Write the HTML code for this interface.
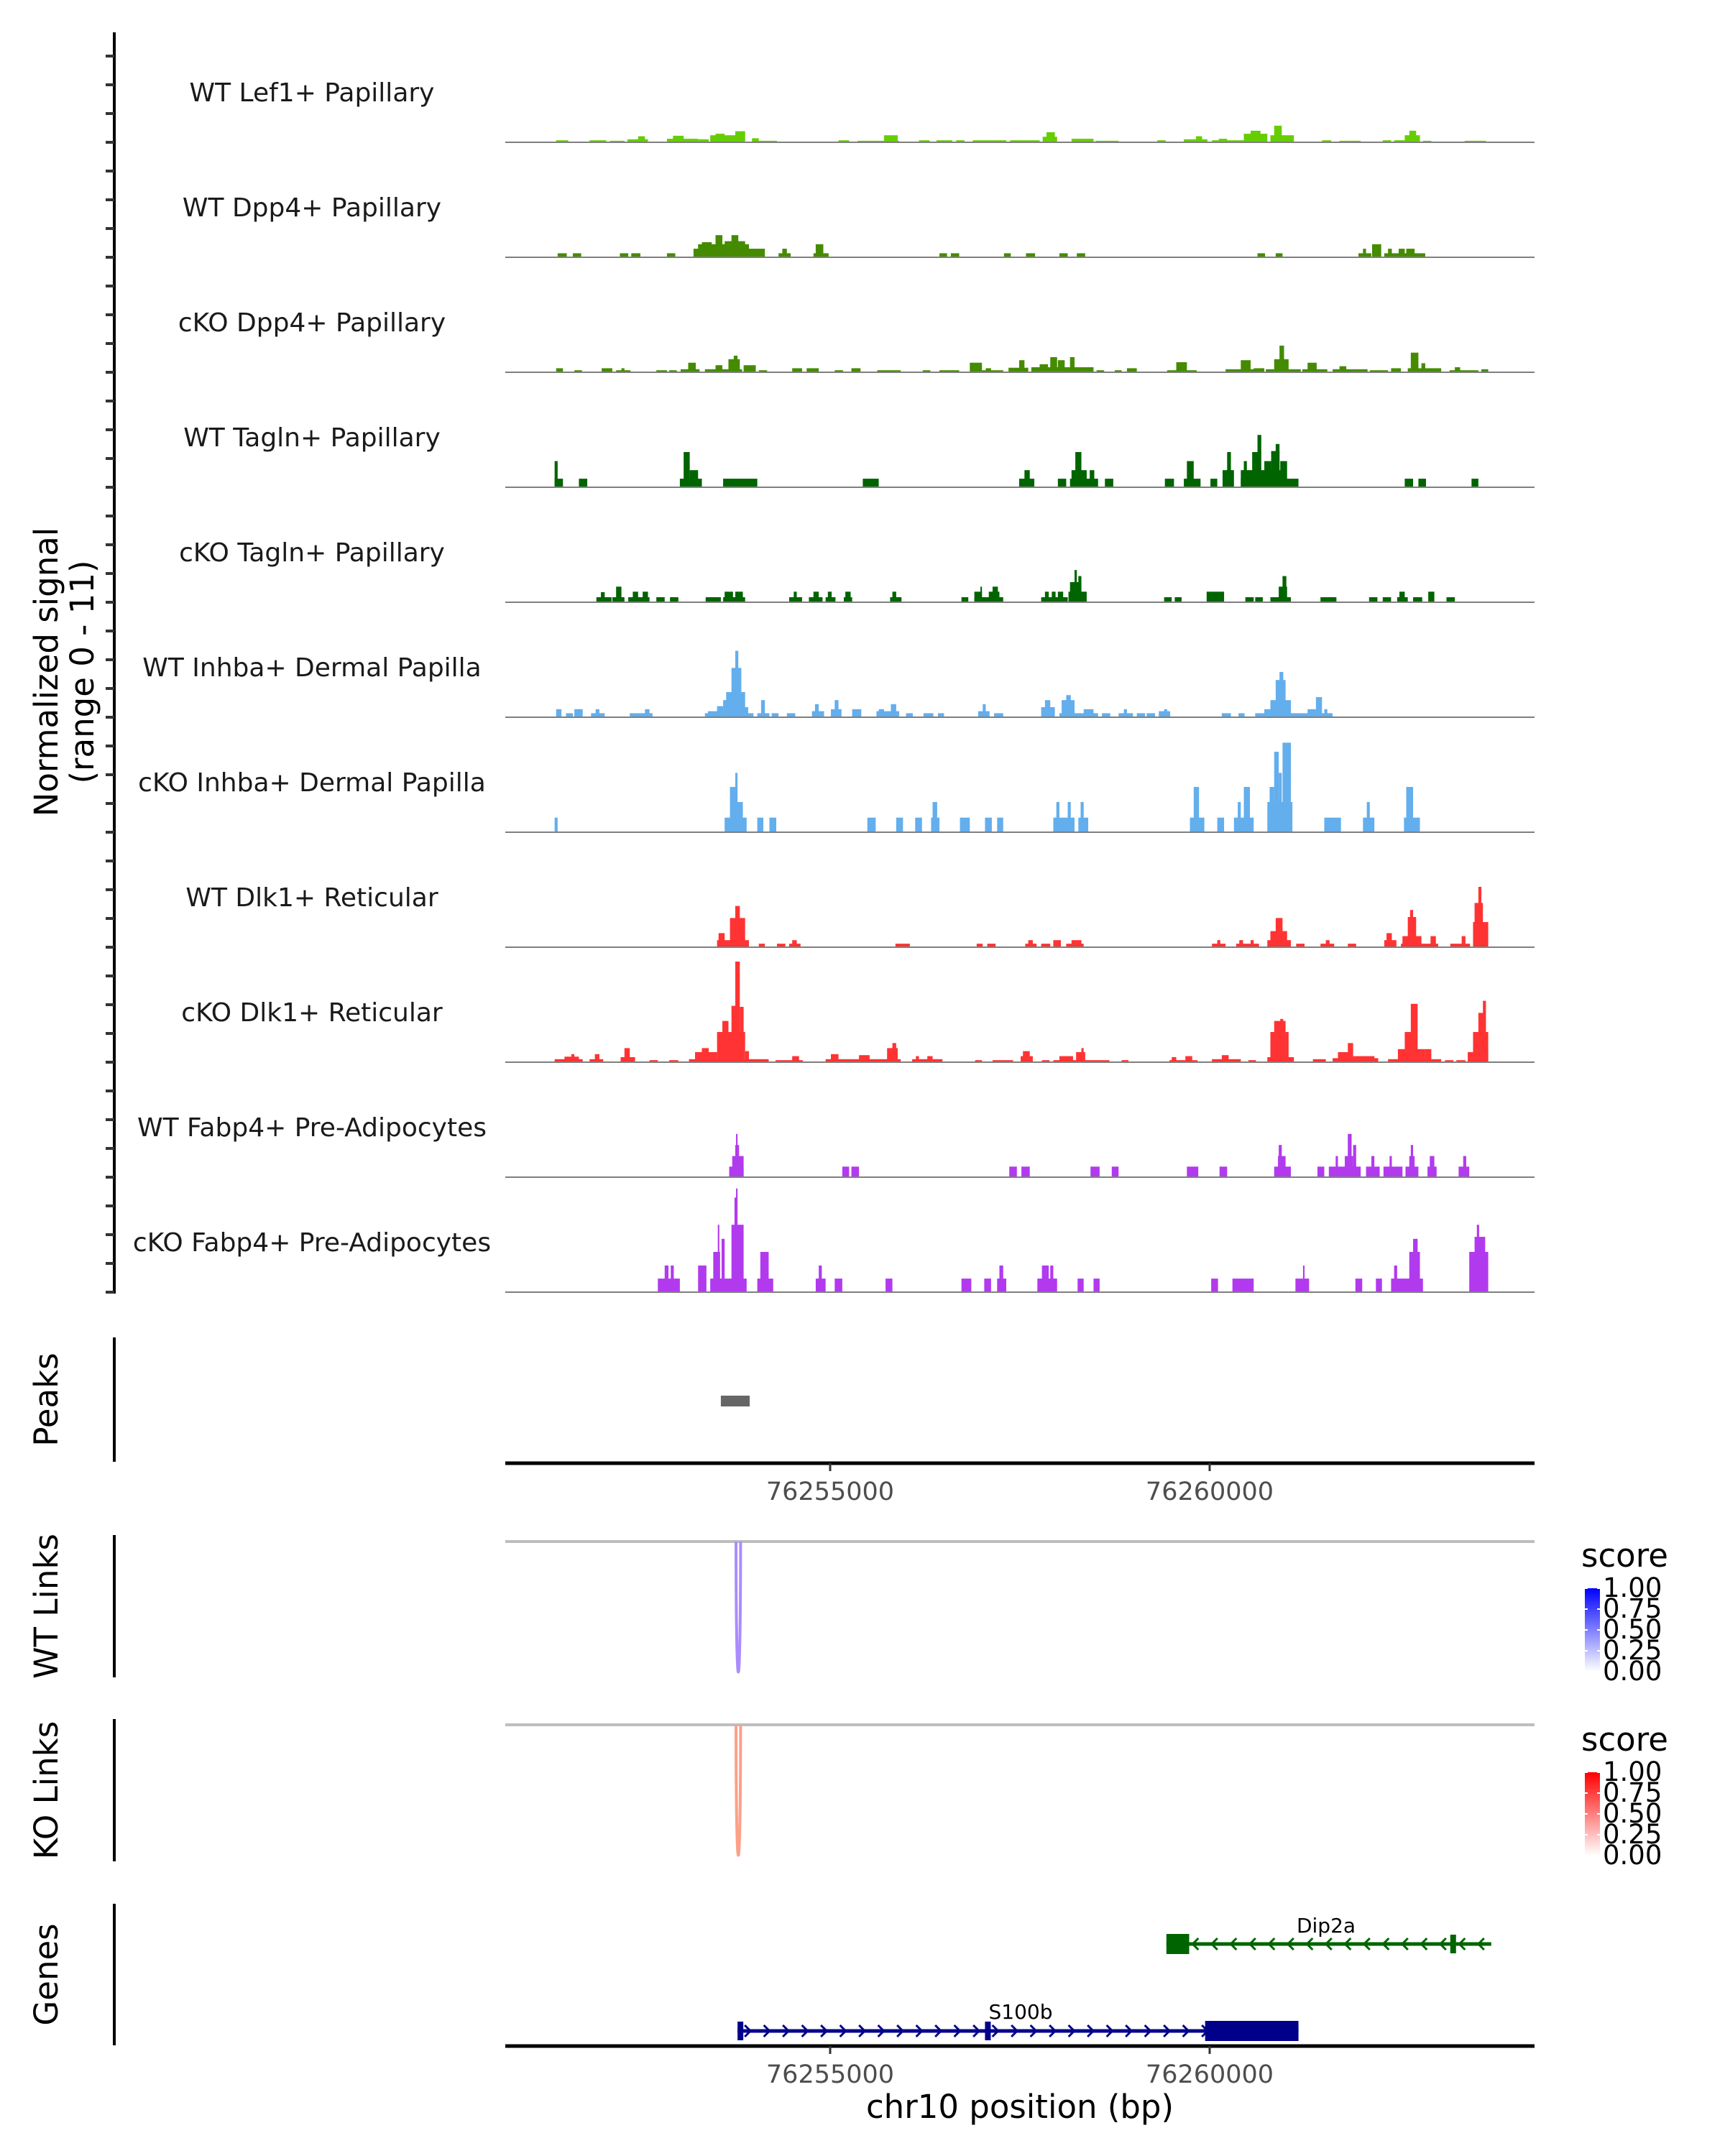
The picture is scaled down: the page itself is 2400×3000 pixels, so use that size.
<!DOCTYPE html>
<html><head><meta charset="utf-8"><style>
html,body{margin:0;padding:0;background:#fff;}
svg{display:block;font-family:"DejaVu Sans","Liberation Sans",sans-serif;}
</style></head><body>
<svg id="fig" width="2400" height="3000" viewBox="0 0 2400 3000" xmlns="http://www.w3.org/2000/svg">
<defs>
<linearGradient id="gBlue" x1="0" y1="1" x2="0" y2="0"><stop offset="0" stop-color="#ffffff"/><stop offset="1" stop-color="#0000ff"/></linearGradient>
<linearGradient id="gRed" x1="0" y1="1" x2="0" y2="0"><stop offset="0" stop-color="#ffffff"/><stop offset="1" stop-color="#ff0000"/></linearGradient>
</defs>
<g id="root"></g>
</svg>
<script>
// ---- data (positions: kb offset from regionStartKb; heights: normalized signal) ----
const regionStartKb = 76250;
const domainKb = [0.72, 14.28];
const axisTicksKb = [5, 10];
const axisTickLabels = ["76255000", "76260000"];
const trackNames = ["WT Lef1+ Papillary","WT Dpp4+ Papillary","cKO Dpp4+ Papillary","WT Tagln+ Papillary","cKO Tagln+ Papillary","WT Inhba+ Dermal Papilla","cKO Inhba+ Dermal Papilla","WT Dlk1+ Reticular","cKO Dlk1+ Reticular","WT Fabp4+ Pre-Adipocytes","cKO Fabp4+ Pre-Adipocytes"];
const trackColors = ["#66cd00","#458b00","#458b00","#006400","#006400","#63aeed","#63aeed","#ff3333","#ff3333","#b23aee","#b23aee"];
const signalRange = [0, 11];
const sigLef1 = [1.39,1.55,0.2, 1.83,2.05,0.2, 2.10,2.29,0.15, 2.33,2.60,0.3, 2.47,2.56,0.6, 2.85,3.26,0.35, 2.93,3.07,0.65, 3.26,3.40,0.3, 3.42,3.75,0.7, 3.49,3.61,0.85, 3.75,3.88,1.1, 3.97,4.06,0.4, 4.06,4.30,0.15, 5.11,5.25,0.2, 5.36,5.91,0.15, 5.71,5.89,0.7, 6.17,6.31,0.2, 6.40,6.61,0.2, 6.66,6.77,0.2, 6.88,7.32,0.2, 7.37,7.76,0.2, 7.80,7.99,0.55, 7.85,7.96,1.0, 8.18,8.47,0.35, 8.50,8.80,0.15, 9.31,9.42,0.2, 9.66,9.97,0.3, 9.82,9.90,0.6, 10.03,10.49,0.2, 10.12,10.23,0.35, 10.45,10.76,0.85, 10.54,10.67,1.15, 10.80,11.11,0.7, 10.85,10.95,1.65, 11.48,11.60,0.2, 11.71,11.99,0.15, 12.28,12.39,0.2, 12.43,12.57,0.2, 12.57,12.77,0.7, 12.63,12.72,1.15, 12.81,12.92,0.15, 13.36,13.64,0.15];
const sigWtDpp4 = [1.41,1.53,0.4, 1.61,1.72,0.4, 2.23,2.34,0.4, 2.38,2.50,0.4, 2.85,2.96,0.4, 3.20,4.14,0.85, 3.26,3.93,1.3, 3.31,3.44,1.5, 3.49,3.58,2.2, 3.61,3.88,1.6, 3.70,3.79,2.2, 4.32,4.48,0.4, 4.37,4.43,0.85, 4.78,4.98,0.4, 4.81,4.91,1.3, 6.44,6.54,0.4, 6.59,6.70,0.4, 7.29,7.38,0.4, 7.58,7.70,0.4, 8.02,8.13,0.4, 8.25,8.36,0.4, 10.63,10.73,0.4, 10.87,10.96,0.4, 11.96,12.13,0.4, 12.02,12.06,0.85, 12.14,12.26,1.3, 12.30,12.84,0.4, 12.35,12.40,0.85, 12.49,12.57,0.85, 12.59,12.70,0.85];
const sigCkoDpp4 = [1.39,1.48,0.4, 1.63,1.73,0.2, 1.99,2.13,0.4, 2.18,2.37,0.2, 2.25,2.29,0.4, 2.71,2.85,0.2, 2.88,2.98,0.2, 3.03,3.28,0.3, 3.13,3.23,0.95, 3.35,3.84,0.3, 3.49,3.58,0.7, 3.66,3.81,1.3, 3.73,3.78,1.65, 3.86,4.02,0.7, 4.06,4.17,0.2, 4.50,4.63,0.4, 4.69,4.85,0.4, 5.06,5.17,0.2, 5.28,5.40,0.4, 5.62,5.93,0.2, 6.22,6.32,0.2, 6.44,6.70,0.2, 6.84,7.00,0.95, 7.00,7.28,0.2, 7.05,7.12,0.4, 7.35,7.61,0.45, 7.49,7.56,1.2, 7.65,8.47,0.5, 7.76,7.87,0.8, 7.90,7.99,1.5, 8.00,8.09,1.2, 8.16,8.22,1.5, 8.51,8.61,0.2, 8.75,8.84,0.2, 8.91,9.04,0.4, 9.44,9.83,0.2, 9.56,9.70,1.0, 10.21,10.72,0.3, 10.41,10.54,1.2, 10.58,10.72,0.4, 10.74,11.20,0.3, 10.85,11.04,1.3, 10.92,10.98,2.65, 11.22,11.55,0.3, 11.29,11.41,0.95, 11.62,12.08,0.3, 11.71,11.80,0.6, 12.11,12.35,0.2, 12.39,12.52,0.4, 12.61,13.05,0.4, 12.65,12.75,1.95, 12.79,12.84,0.9, 13.16,13.54,0.2, 13.23,13.30,0.5, 13.58,13.67,0.3];
const sigWtTagln = [1.37,1.48,0.85, 1.37,1.41,2.6, 1.69,1.80,0.85, 3.02,3.31,0.85, 3.07,3.15,3.5, 3.15,3.26,1.7, 3.59,4.04,0.85, 5.43,5.64,0.85, 7.49,7.69,0.85, 7.56,7.63,1.7, 8.00,8.11,0.85, 8.16,8.53,0.85, 8.18,8.38,1.7, 8.23,8.31,3.5, 8.42,8.48,1.7, 8.62,8.73,0.85, 9.41,9.53,0.85, 9.66,9.88,0.85, 9.70,9.79,2.6, 10.01,10.10,0.85, 10.17,10.32,1.7, 10.23,10.28,3.5, 10.41,11.17,0.85, 10.41,10.97,1.7, 10.45,10.49,2.6, 10.56,10.65,3.5, 10.63,10.68,5.2, 10.72,10.81,2.6, 10.81,10.92,3.6, 10.87,10.92,4.3, 10.93,11.02,2.6, 12.57,12.68,0.85, 12.75,12.85,0.85, 13.45,13.54,0.85];
const sigCkoTagln = [1.92,2.12,0.5, 1.98,2.03,1.0, 2.13,2.29,0.5, 2.18,2.25,1.55, 2.34,2.62,0.5, 2.40,2.47,1.05, 2.53,2.60,1.05, 2.71,2.82,0.5, 2.89,3.00,0.5, 3.36,3.56,0.5, 3.59,3.88,0.5, 3.61,3.72,1.05, 3.75,3.85,1.05, 4.46,4.63,0.5, 4.52,4.56,1.05, 4.72,4.90,0.5, 4.78,4.85,1.05, 4.94,5.07,0.5, 4.97,5.02,1.05, 5.18,5.29,0.5, 5.20,5.27,1.05, 5.79,5.94,0.5, 5.82,5.87,1.05, 6.73,6.82,0.5, 6.90,7.28,0.5, 6.90,7.00,1.05, 6.98,7.00,1.55, 7.09,7.23,1.05, 7.14,7.21,1.55, 7.78,8.13,0.5, 7.83,7.88,1.05, 7.92,7.97,1.05, 8.00,8.07,1.05, 8.14,8.38,1.05, 8.16,8.31,2.0, 8.22,8.25,3.2, 8.27,8.31,2.6, 9.40,9.50,0.5, 9.54,9.63,0.5, 9.96,10.19,1.05, 10.47,10.58,0.5, 10.60,10.70,0.5, 10.80,11.07,0.5, 10.91,11.02,1.55, 10.96,11.01,2.6, 11.46,11.67,0.5, 12.10,12.21,0.5, 12.28,12.39,0.5, 12.47,12.61,0.5, 12.50,12.57,1.05, 12.68,12.80,0.5, 12.88,12.96,1.05, 13.12,13.23,0.5];
const sigWtInhba = [1.39,1.46,0.8, 1.52,1.61,0.4, 1.63,1.74,0.8, 1.85,2.03,0.4, 1.91,1.96,0.8, 2.36,2.66,0.4, 2.56,2.62,0.8, 3.35,3.99,0.4, 3.39,3.53,0.6, 3.51,3.59,1.1, 3.59,3.66,1.7, 3.63,3.88,2.5, 3.70,3.83,4.9, 3.75,3.79,6.6, 3.86,3.92,1.0, 4.04,4.20,0.4, 4.09,4.14,1.7, 4.23,4.32,0.4, 4.43,4.54,0.4, 4.76,4.92,0.6, 4.80,4.85,1.3, 5.01,5.15,0.8, 5.06,5.11,1.7, 5.29,5.41,0.8, 5.61,5.91,0.6, 5.64,5.71,0.8, 5.80,5.87,1.3, 6.00,6.09,0.4, 6.23,6.36,0.4, 6.42,6.50,0.4, 6.95,7.10,0.6, 7.01,7.05,1.3, 7.16,7.28,0.4, 7.78,7.96,1.0, 7.83,7.90,1.7, 8.02,8.53,0.4, 8.05,8.22,1.7, 8.11,8.17,2.2, 8.34,8.47,0.8, 8.58,8.69,0.4, 8.80,8.99,0.4, 8.87,8.91,0.8, 9.04,9.15,0.4, 9.17,9.28,0.4, 9.33,9.48,0.6, 9.40,9.44,0.8, 10.16,10.28,0.4, 10.38,10.46,0.4, 10.60,11.25,0.4, 10.72,10.83,0.8, 10.80,11.07,1.7, 10.87,11.00,3.7, 10.92,10.97,4.5, 11.25,11.62,0.4, 11.29,11.40,0.8, 11.40,11.48,2.0, 11.51,11.55,0.8];
const sigCkoInhba = [1.37,1.41,1.45, 3.61,3.90,1.45, 3.68,3.77,4.5, 3.75,3.78,5.9, 3.77,3.85,3.0, 4.04,4.12,1.45, 4.20,4.29,1.45, 5.49,5.60,1.45, 5.87,5.96,1.45, 6.12,6.21,1.45, 6.33,6.44,1.45, 6.35,6.41,3.0, 6.71,6.84,1.45, 7.04,7.13,1.45, 7.20,7.28,1.45, 7.94,8.22,1.45, 7.98,8.02,3.0, 8.13,8.17,3.0, 8.27,8.40,1.45, 8.30,8.34,3.0, 9.74,9.93,1.45, 9.79,9.86,4.5, 10.10,10.19,1.45, 10.32,10.58,1.45, 10.37,10.41,3.0, 10.45,10.53,4.5, 10.76,11.09,3.0, 10.79,10.85,4.5, 10.85,10.91,8.0, 10.91,10.95,5.9, 10.96,11.07,8.9, 11.51,11.73,1.45, 12.02,12.17,1.45, 12.07,12.11,3.0, 12.56,12.77,1.45, 12.59,12.68,4.5];
const sigWtDlk1 = [3.51,3.93,0.7, 3.53,3.61,1.4, 3.68,3.88,2.9, 3.75,3.81,4.1, 4.06,4.14,0.35, 4.30,4.41,0.35, 4.46,4.61,0.35, 4.50,4.56,0.7, 5.86,6.05,0.35, 6.93,7.01,0.35, 7.07,7.18,0.35, 7.57,7.72,0.35, 7.61,7.67,0.7, 7.78,7.90,0.35, 7.94,8.04,0.7, 8.11,8.34,0.35, 8.18,8.31,0.7, 10.03,10.21,0.35, 10.10,10.14,0.7, 10.35,10.65,0.35, 10.39,10.44,0.7, 10.54,10.58,0.7, 10.76,11.07,0.7, 10.80,11.02,1.6, 10.87,10.96,2.9, 11.14,11.25,0.35, 11.46,11.64,0.35, 11.53,11.58,0.7, 11.82,11.93,0.35, 12.30,12.46,0.7, 12.33,12.40,1.4, 12.52,13.01,0.35, 12.54,12.79,1.1, 12.61,12.72,3.0, 12.64,12.68,3.7, 12.91,12.98,1.1, 13.17,13.43,0.35, 13.32,13.37,1.1, 13.47,13.67,2.5, 13.49,13.60,4.4, 13.54,13.58,6.0];
const sigCkoDlk1 = [1.37,1.74,0.3, 1.50,1.69,0.55, 1.59,1.63,0.8, 1.83,2.01,0.3, 1.90,1.96,0.8, 2.24,2.43,0.5, 2.29,2.36,1.4, 2.62,2.73,0.2, 2.88,3.00,0.2, 3.14,4.19,0.3, 3.22,3.51,1.0, 3.31,3.40,1.4, 3.51,3.88,3.0, 3.58,3.66,4.1, 3.70,3.79,5.6, 3.75,3.81,10.0, 3.81,3.86,5.5, 3.88,3.93,1.1, 4.28,4.64,0.2, 4.50,4.59,0.6, 4.94,5.93,0.3, 5.01,5.11,0.8, 5.38,5.52,0.7, 5.75,5.89,1.4, 5.82,5.87,1.9, 6.08,6.48,0.3, 6.13,6.17,0.6, 6.28,6.35,0.6, 6.91,7.00,0.2, 7.14,7.41,0.2, 7.51,7.67,0.6, 7.54,7.63,1.1, 7.79,7.89,0.2, 7.94,8.68,0.2, 8.02,8.20,0.6, 8.24,8.36,1.0, 8.31,8.34,1.4, 8.84,8.93,0.2, 9.47,9.84,0.2, 9.50,9.56,0.5, 9.68,9.77,0.6, 10.03,10.41,0.3, 10.16,10.25,0.7, 10.51,10.61,0.2, 10.76,11.11,0.5, 10.80,11.04,3.0, 10.85,11.00,4.1, 10.93,10.97,4.3, 11.36,11.53,0.3, 11.62,12.22,0.4, 11.69,11.87,1.0, 11.82,11.89,1.9, 11.89,12.17,0.6, 12.35,13.05,0.3, 12.48,12.84,1.3, 12.57,12.72,3.0, 12.65,12.74,5.8, 12.84,12.92,1.3, 13.10,13.21,0.2, 13.25,13.37,0.2, 13.40,13.67,1.0, 13.47,13.67,3.0, 13.54,13.63,4.9, 13.60,13.64,6.1];
const sigWtFabp4 = [3.67,3.86,1.05, 3.71,3.86,2.1, 3.75,3.80,3.2, 3.76,3.78,4.3, 5.16,5.25,1.05, 5.28,5.38,1.05, 7.36,7.46,1.05, 7.52,7.63,1.05, 8.43,8.55,1.05, 8.71,8.80,1.05, 9.70,9.85,1.05, 10.13,10.23,1.05, 10.85,11.07,1.05, 10.90,11.00,2.1, 10.91,10.95,3.2, 11.42,11.51,1.05, 11.57,11.99,1.05, 11.66,11.69,2.1, 11.78,11.89,2.1, 11.82,11.87,4.3, 11.89,11.93,3.2, 12.06,12.24,1.05, 12.13,12.17,2.1, 12.29,12.54,1.05, 12.37,12.40,2.1, 12.58,12.75,1.05, 12.63,12.70,2.1, 12.65,12.68,3.2, 12.87,12.99,1.05, 12.90,12.96,2.1, 13.28,13.42,1.05, 13.34,13.38,2.1];
const sigCkoFabp4 = [2.73,3.02,1.35, 2.82,2.87,2.65, 2.90,2.94,2.65, 3.26,3.37,2.65, 3.42,3.90,1.35, 3.46,3.55,4.0, 3.52,3.54,6.7, 3.57,3.61,5.3, 3.70,3.86,6.7, 3.74,3.77,9.4, 3.76,3.78,10.3, 4.04,4.25,1.35, 4.08,4.19,4.0, 4.81,4.94,1.35, 4.85,4.89,2.65, 5.06,5.16,1.35, 5.73,5.82,1.35, 6.73,6.86,1.35, 7.03,7.12,1.35, 7.20,7.32,1.35, 7.23,7.28,2.65, 7.73,7.99,1.35, 7.79,7.88,2.65, 7.90,7.94,2.65, 8.26,8.34,1.35, 8.47,8.55,1.35, 10.02,10.11,1.35, 10.30,10.58,1.35, 11.13,11.31,1.35, 11.23,11.25,2.65, 11.92,12.01,1.35, 12.19,12.27,1.35, 12.39,12.81,1.35, 12.43,12.47,2.65, 12.63,12.77,4.0, 12.68,12.74,5.3, 13.42,13.67,4.0, 13.49,13.63,5.5, 13.52,13.55,6.7];
const trackSignals = [sigLef1,sigWtDpp4,sigCkoDpp4,sigWtTagln,sigCkoTagln,sigWtInhba,sigCkoInhba,sigWtDlk1,sigCkoDlk1,sigWtFabp4,sigCkoFabp4];
const peakRegions = [[3.56, 3.94]];
const wtLinks = [[3.76, 3.82, 0.45]];
const koLinks = [[3.76, 3.82, 0.45]];
const geneNames = ["Dip2a", "S100b"];
const geneSpans = [[9.43, 13.71], [3.78, 11.17]];
const geneStrand = [-1, 1];
const geneExons = [[[9.43, 9.73, 1], [13.17, 13.21, 0]], [[3.78, 3.83, 0], [7.04, 7.12, 0], [9.94, 11.17, 1]]];
const legendTicks = [0, 0.25, 0.5, 0.75, 1.0];

// ---- layout ----
const NS = "http://www.w3.org/2000/svg";
const root = document.getElementById("root");
const X0 = 703, X1 = 2135;
function xs(kb) { return X0 + (kb - domainKb[0]) / (domainKb[1] - domainKb[0]) * (X1 - X0); }
const unitPx = 14;
function mk(tag, attrs, parent) {
  const e = document.createElementNS(NS, tag);
  for (const k in attrs) e.setAttribute(k, attrs[k]);
  (parent || root).appendChild(e);
  return e;
}
function txt(s, attrs, parent) { const e = mk("text", attrs, parent); e.textContent = s; return e; }

let ax = mk("line", {x1:159, y1:45, x2:159, y2:1800, stroke:"#000", "stroke-width":4});


for (let y = 78; y <= 1800; y += 40) {
  const t = mk("line", {x1:147, y1:y, x2:159, y2:y, stroke:"#333", "stroke-width":4});
  
  
}
const yt = mk("text", {transform:"translate(80,935) rotate(-90)", "text-anchor":"middle", "font-size":45, fill:"#000"});


const t1 = mk("tspan", {x:0, y:0}, yt); t1.textContent = "Normalized signal";
const t2 = mk("tspan", {x:0, y:50}, yt); t2.textContent = "(range 0 - 11)";

for (let i = 0; i < trackNames.length; i++) {
  const base = 198 + 160 * i;
  const g = mk("g", {});
  
  
  const lab = txt(trackNames[i], {x:434, y:base - 57, "text-anchor":"middle", "font-size":36, fill:"#1a1a1a"}, g);
  
  
  const s = trackSignals[i];
  for (let j = 0; j + 2 < s.length; j += 3) {
    const x1 = xs(s[j]), x2 = xs(s[j + 1]);
    const h = Math.min(s[j + 2], signalRange[1]) * unitPx;
    const r = mk("rect", {x:x1, y:base - h, width:Math.max(1, x2 - x1), height:h, fill:trackColors[i]}, g);
    
    
  }
  const bl = mk("line", {x1:X0, y1:base, x2:X1, y2:base, stroke:"#7f7f7f", "stroke-width":2}, g);
  
  
}

function sidePanel(name, y1, y2, label) {
  const l = mk("line", {x1:159, y1:y1, x2:159, y2:y2, stroke:"#000", "stroke-width":4});
  
  
  const t = txt(label, {transform:"translate(80," + ((y1 + y2) / 2) + ") rotate(-90)", "text-anchor":"middle", "font-size":45, fill:"#000"});
  
  
}
sidePanel("peaks", 1861, 2034, "Peaks");
sidePanel("wt-links", 2136, 2334, "WT Links");
sidePanel("ko-links", 2392, 2590, "KO Links");
sidePanel("genes", 2649, 2846, "Genes");

for (const p of peakRegions) {
  const r = mk("rect", {x:xs(p[0]), y:1942, width:xs(p[1]) - xs(p[0]), height:15, fill:"#666"});
  
  
}
function xAxis(y, name) {
  const l = mk("line", {x1:X0, y1:y, x2:X1, y2:y, stroke:"#000", "stroke-width":5});
  
  
  for (let i = 0; i < axisTicksKb.length; i++) {
    const x = xs(axisTicksKb[i]);
    const tk = mk("line", {x1:x, y1:y, x2:x, y2:y + 11, stroke:"#333", "stroke-width":3});
    
    
    const tl = txt(axisTickLabels[i], {x:x, y:y + 51, "text-anchor":"middle", "font-size":35, fill:"#4d4d4d"});
    
    
  }
}
xAxis(2036, "peaks-x-axis");

function linksPanel(links, topY, depth, colorFn, name) {
  const gl = mk("line", {x1:X0, y1:topY, x2:X1, y2:topY, stroke:"#bebebe", "stroke-width":4});
  
  
  for (const k of links) {
    const a = xs(k[0]), b = xs(k[1]);
    const p = mk("path", {d:"M" + a + "," + topY + " C" + a + "," + (topY + depth * 1.33) + " " + b + "," + (topY + depth * 1.33) + " " + b + "," + topY, fill:"none", stroke:colorFn(k[2]), "stroke-width":4});
    
    
  }
}
linksPanel(wtLinks, 2145, 182, s => "rgb(" + Math.round(255 - 189 * s) + "," + Math.round(255 - 255 * s) + ",255)", "wt-link");
linksPanel(koLinks, 2400, 182, s => "rgb(252," + Math.round(255 - 211 * s) + "," + Math.round(255 - 264 * s) + ")", "ko-link");

function legend(y0, grad, name) {
  const t = txt("score", {x:2200, y:y0, "font-size":45, fill:"#000"});
  
  
  const top = y0 + 30, bot = y0 + 146;
  const r = mk("rect", {x:2205, y:top, width:21, height:bot - top, fill:"url(#" + grad + ")"});
  
  
  for (const v of legendTicks) {
    const y = bot - v * (bot - top);
    mk("line", {x1:2205, y1:y, x2:2209, y2:y, stroke:"#fff", "stroke-width":2});
    mk("line", {x1:2222, y1:y, x2:2226, y2:y, stroke:"#fff", "stroke-width":2});
    const l = txt(v.toFixed(2), {x:2230, y:y + 12, "font-size":37, fill:"#000"});
    
    
  }
}
legend(2180, "gBlue", "wt-legend");
legend(2436, "gRed", "ko-legend");

const geneY = [2705, 2826];
const geneCol = ["#006400", "#00008b"];
const geneLabelX = [[1845, 2689], [1420, 2809]];
for (let i = 0; i < geneNames.length; i++) {
  const y = geneY[i], c = geneCol[i];
  const g = mk("g", {});
  
  
  const a = xs(geneSpans[i][0]), b = xs(geneSpans[i][1]);
  mk("line", {x1:a, y1:y, x2:b, y2:y, stroke:c, "stroke-width":5}, g);
  for (let x = a + 14; x < b + 2; x += 26.5) {
    const d = geneStrand[i] > 0 ? "M" + (x - 4) + "," + (y - 8) + " L" + (x + 4) + "," + y + " L" + (x - 4) + "," + (y + 8)
                                 : "M" + (x + 4) + "," + (y - 8) + " L" + (x - 4) + "," + y + " L" + (x + 4) + "," + (y + 8);
    mk("path", {d:d, fill:"none", stroke:c, "stroke-width":3}, g);
  }
  for (const e of geneExons[i]) {
    const ex = xs(e[0]), ew = Math.max(6, xs(e[1]) - xs(e[0]));
    const h = e[2] ? 28 : 26;
    const w = e[2] ? ew : 8;
    const r = mk("rect", {x:ex, y:y - h / 2, width:w, height:h, fill:c}, g);
    
    
  }
  const l = txt(geneNames[i], {x:geneLabelX[i][0], y:geneLabelX[i][1], "text-anchor":"middle", "font-size":28, fill:"#000"}, g);
  
  
}
xAxis(2847, "genes-x-axis");
const xt = txt("chr10 position (bp)", {x:1419, y:2947, "text-anchor":"middle", "font-size":45, fill:"#000"});


</script>
</body></html>
